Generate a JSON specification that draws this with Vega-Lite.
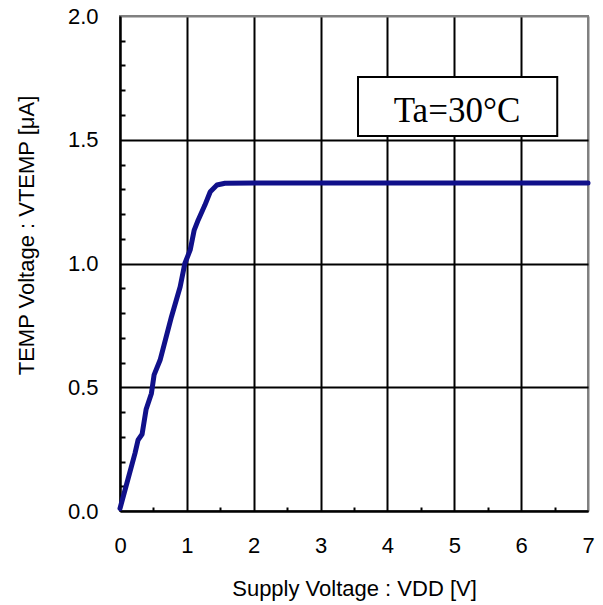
{
  "$schema": "https://vega.github.io/schema/vega-lite/v6.json",
  "width": 468,
  "height": 495,
  "autosize": {"type": "none"},
  "padding": {"left": 120, "top": 16, "right": 15, "bottom": 94},
  "background": "white",
  "config": {
    "view": {"stroke": "#808080", "strokeWidth": 2},
    "font": "Liberation Sans"
  },
  "layer": [
    {
      "data": {"values": [{"x1": 3.56, "x2": 6.54, "y1": 1.515, "y2": 1.754}]},
      "mark": {"type": "rect", "fill": "white", "stroke": "black", "strokeWidth": 2},
      "encoding": {
        "x": {
          "field": "x1", "type": "quantitative",
          "scale": {"domain": [0, 7], "nice": false},
          "axis": {
            "orient": "bottom", "values": [0.5, 1.5, 2.5, 3.5, 4.5, 5.5, 6.5],
            "ticks": true, "tickSize": -4, "tickWidth": 2, "tickColor": "black",
            "labels": false, "domain": false, "grid": false, "title": null
          }
        },
        "x2": {"field": "x2"},
        "y": {
          "field": "y1", "type": "quantitative",
          "scale": {"domain": [0, 2], "nice": false},
          "axis": {
            "orient": "left",
            "values": [0.1, 0.2, 0.3, 0.4, 0.6, 0.7, 0.8, 0.9, 1.1, 1.2, 1.3, 1.4, 1.6, 1.7, 1.8, 1.9],
            "ticks": true, "tickSize": -5, "tickWidth": 2, "tickColor": "black",
            "labels": false, "domain": false, "grid": false, "title": null
          }
        },
        "y2": {"field": "y2"}
      }
    },
    {
      "data": {"values": [{"x": 5.04, "y": 1.572, "label": "Ta=30°C"}]},
      "mark": {"type": "text", "font": "Liberation Serif", "fontSize": 35, "baseline": "alphabetic", "align": "center", "color": "black"},
      "encoding": {
        "x": {"field": "x", "type": "quantitative", "scale": {"domain": [0, 7], "nice": false}, "axis": null},
        "y": {"field": "y", "type": "quantitative", "scale": {"domain": [0, 2], "nice": false}, "axis": null},
        "text": {"field": "label"}
      }
    },
    {
      "data": {
        "values": [
          {"v": 0.0, "t": 0.01},
          {"v": 0.224, "t": 0.233},
          {"v": 0.27, "t": 0.287},
          {"v": 0.33, "t": 0.31},
          {"v": 0.39, "t": 0.41},
          {"v": 0.47, "t": 0.475},
          {"v": 0.51, "t": 0.55},
          {"v": 0.6, "t": 0.61},
          {"v": 0.77, "t": 0.785},
          {"v": 0.9, "t": 0.906},
          {"v": 0.97, "t": 1.0},
          {"v": 1.05, "t": 1.055},
          {"v": 1.11, "t": 1.135},
          {"v": 1.17, "t": 1.176},
          {"v": 1.27, "t": 1.236},
          {"v": 1.35, "t": 1.29},
          {"v": 1.45, "t": 1.317},
          {"v": 1.57, "t": 1.324},
          {"v": 2.0, "t": 1.325},
          {"v": 7.0, "t": 1.325}
        ]
      },
      "mark": {"type": "line", "color": "#10108a", "strokeWidth": 5, "strokeJoin": "round", "strokeCap": "round"},
      "encoding": {
        "x": {
          "field": "v", "type": "quantitative",
          "scale": {"domain": [0, 7], "nice": false},
          "axis": {
            "orient": "bottom",
            "values": [0, 1, 2, 3, 4, 5, 6, 7],
            "grid": true,
            "gridColor": {"condition": {"test": "datum.value == 7", "value": "#808080"}, "value": "black"},
            "gridWidth": 2,
            "gridOpacity": 1,
            "ticks": false,
            "domainColor": "black",
            "domainWidth": 2,
            "labelFontSize": 22,
            "labelColor": "black",
            "labelFlush": false,
            "labelOverlap": false,
            "labelBaseline": "alphabetic",
            "labelPadding": 41,
            "title": "Supply Voltage : VDD [V]",
            "titleFontSize": 22,
            "titleFontWeight": "normal",
            "titleColor": "black",
            "titleBaseline": "alphabetic",
            "titleY": 84
          }
        },
        "y": {
          "field": "t", "type": "quantitative",
          "scale": {"domain": [0, 2], "nice": false},
          "axis": {
            "orient": "left",
            "values": [0, 0.5, 1, 1.5, 2],
            "format": ".1f",
            "grid": true,
            "gridColor": {"condition": {"test": "datum.value == 2", "value": "#808080"}, "value": "black"},
            "gridWidth": 2,
            "gridOpacity": 1,
            "ticks": false,
            "domainColor": "black",
            "domainWidth": 2,
            "labelFontSize": 22,
            "labelColor": "black",
            "labelFlush": false,
            "labelOverlap": false,
            "labelBaseline": "middle",
            "labelPadding": 22,
            "title": "TEMP Voltage : VTEMP [μA]",
            "titleFontSize": 22,
            "titleFontWeight": "normal",
            "titleColor": "black",
            "titleBaseline": "middle",
            "titleX": -94,
            "titleY": 219
          }
        }
      }
    }
  ],
  "resolve": {"axis": {"x": "independent", "y": "independent"}}
}
